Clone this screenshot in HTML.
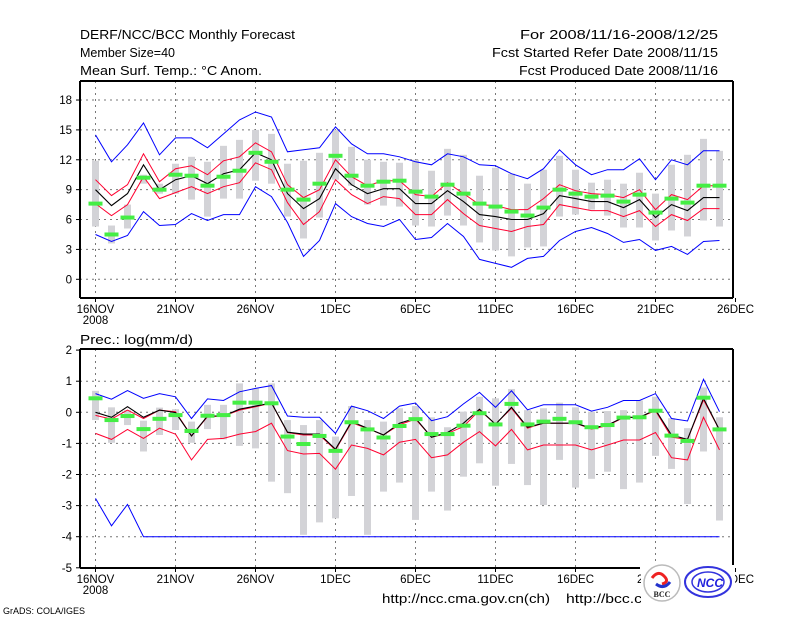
<!DOCTYPE html>
<html><head><meta charset="utf-8"><style>
body{margin:0;background:#fff;}
svg{display:block;font-family:"Liberation Sans",sans-serif;}
</style></head><body>
<svg id="c" width="800" height="618" viewBox="0 0 800 618" xmlns="http://www.w3.org/2000/svg">
<rect width="800" height="618" fill="#fff"/>
<g font-size="13" fill="#000">
<text x="80" y="39" textLength="215" lengthAdjust="spacingAndGlyphs">DERF/NCC/BCC Monthly Forecast</text>
<text x="80" y="57" textLength="95" lengthAdjust="spacingAndGlyphs">Member Size=40</text>
<text x="80" y="75" textLength="182" lengthAdjust="spacingAndGlyphs">Mean Surf. Temp.: °C Anom.</text>
<text x="520" y="39" textLength="198" lengthAdjust="spacingAndGlyphs">For 2008/11/16-2008/12/25</text>
<text x="492" y="57" textLength="226" lengthAdjust="spacingAndGlyphs">Fcst Started Refer Date 2008/11/15</text>
<text x="519" y="75" textLength="199" lengthAdjust="spacingAndGlyphs">Fcst Produced Date 2008/11/16</text>
<text x="80" y="344" textLength="113" lengthAdjust="spacingAndGlyphs">Prec.: log(mm/d)</text>
<text x="382" y="603" textLength="168" lengthAdjust="spacingAndGlyphs">http://ncc.cma.gov.cn(ch)</text>
<text x="566" y="603" textLength="76" lengthAdjust="spacingAndGlyphs">http://bcc.c</text>
<text x="3" y="614" font-size="9">GrADS: COLA/IGES</text>
</g>
<g id="p1"></g>
<g id="p2"></g>
<g>
<rect x="641" y="565" width="94" height="37" fill="#fff"/>
<circle cx="662" cy="583" r="18" fill="#fff" stroke="#bbb" stroke-width="1.5"/>
<path d="M652 578 q6-8 12-2 q6 6 -2 8" fill="none" stroke="#e22" stroke-width="3"/>
<path d="M656 584 q8 6 14-2" fill="none" stroke="#23c" stroke-width="3"/>
<text x="662" y="597" font-size="8" font-weight="bold" text-anchor="middle" fill="#222" font-family="Liberation Serif,serif">BCC</text>
<ellipse cx="708" cy="582" rx="23" ry="15" fill="#fff" stroke="#33d" stroke-width="2"/>
<ellipse cx="708" cy="582" rx="16" ry="10" fill="none" stroke="#33d" stroke-width="1.5"/>
<text x="710" y="587" font-size="12" font-weight="bold" font-style="italic" text-anchor="middle" fill="#22d">NCC</text>
</g>
</svg>
<script>
const days=["16NOV","21NOV","26NOV","1DEC","6DEC","11DEC","16DEC","21DEC","26DEC"];
const tMax=[14.5,11.8,13.5,15.7,12.5,14.2,14.2,13.2,14.6,16.0,16.8,16.3,12.8,13.0,13.2,15.3,13.6,12.6,12.6,12.3,11.8,11.5,12.6,12.3,11.5,11.4,10.6,10.1,11.1,13.0,11.5,10.5,11.0,11.0,12.1,10.0,12.0,11.5,12.9,12.9];
const tMin=[4.5,3.8,4.4,6.8,5.4,5.5,6.6,5.9,6.5,6.5,9.3,8.3,5.7,2.3,3.9,7.6,6.3,5.6,5.3,6.0,4.0,4.2,5.6,4.3,2.0,1.6,1.2,2.1,2.3,3.9,4.8,5.2,4.6,3.7,4.0,2.9,3.3,2.5,3.8,3.9];
const tUp=[10.0,8.4,9.5,12.6,9.8,11.1,11.4,10.5,11.9,12.3,13.7,12.8,9.5,8.2,9.0,12.0,10.3,9.4,9.9,9.9,8.5,8.3,9.7,8.6,7.5,7.4,7.0,7.0,8.1,9.5,8.9,8.6,8.5,8.2,9.0,7.0,8.5,8.0,9.4,9.4];
const tLo=[7.6,6.4,7.5,10.3,8.1,8.7,9.3,8.6,9.3,9.7,11.7,11.0,7.7,5.5,6.8,10.0,8.5,7.6,8.3,8.1,6.5,6.5,8.0,6.6,5.4,5.1,4.8,5.3,5.5,7.5,7.2,6.9,6.9,6.3,6.9,5.3,6.5,5.9,7.1,7.1];
const tMean=[9.0,7.4,8.6,11.5,9.0,10.0,10.4,9.6,10.6,11.0,12.7,12.0,8.6,7.1,8.1,11.1,9.5,8.6,9.1,9.1,7.6,7.6,8.9,7.8,6.5,6.3,6.0,6.0,6.6,8.4,8.1,7.8,7.8,7.2,8.0,6.2,7.5,6.9,8.2,8.2];
const tObs=[7.6,4.5,6.2,10.2,9.0,10.5,10.4,9.4,10.3,10.9,12.7,11.8,9.0,8.0,9.6,12.4,10.4,9.4,9.8,9.9,8.8,8.3,9.5,8.6,7.6,7.3,6.8,6.4,7.2,9.0,8.6,8.3,8.4,7.8,8.5,6.7,8.1,7.7,9.4,9.4];
const tBarHi=[11.9,5.4,7.5,10.5,9.6,11.6,12.3,11.8,13.4,14.0,15.0,14.6,11.6,11.9,12.7,15.0,13.3,12.0,11.8,11.7,12.0,10.9,13.1,12.5,10.4,11.2,10.6,9.6,11.0,12.4,11.0,9.7,10.0,9.6,10.7,8.6,11.5,12.5,14.1,12.9];
const tBarLo=[5.3,3.6,5.1,9.6,8.6,8.6,8.0,6.3,8.1,8.1,9.9,9.6,6.3,4.1,6.2,10.0,9.4,7.5,7.4,7.3,5.4,5.3,6.4,5.4,3.7,2.9,2.3,3.2,3.3,6.3,6.5,7.0,6.4,5.2,5.2,3.9,4.9,4.3,5.9,5.3];
const tTicks=[0,3,6,9,12,15,18];
const pMax=[0.6,0.42,0.7,0.45,0.6,0.5,-0.2,0.43,0.38,0.66,0.77,0.86,-0.12,-0.16,-0.16,-0.68,0.2,0.05,-0.2,0.2,0.3,-0.27,-0.14,0.27,0.64,0.16,0.69,0.08,0.24,0.24,0.24,0.04,0.16,0.38,0.38,0.6,-0.2,-0.28,1.06,0.02];
const pMin=[-2.77,-3.65,-2.96,-4,-4,-4,-4,-4,-4,-4,-4,-4,-4,-4,-4,-4,-4,-4,-4,-4,-4,-4,-4,-4,-4,-4,-4,-4,-4,-4,-4,-4,-4,-4,-4,-4,-4,-4,-4,-4];
const pUp=[-0.1,-0.22,0.07,-0.2,0.07,0.02,-0.76,-0.14,-0.12,0.07,0.18,0.3,-0.65,-0.73,-0.73,-1.21,-0.33,-0.52,-0.73,-0.4,-0.22,-0.8,-0.68,-0.46,0.07,-0.38,0.13,-0.51,-0.35,-0.35,-0.35,-0.54,-0.43,-0.17,-0.16,0.05,-0.8,-0.87,0.4,-0.57];
const pLo=[-0.68,-0.87,-0.55,-0.84,-0.51,-0.7,-1.53,-0.87,-0.84,-0.7,-0.62,-0.35,-1.23,-1.34,-1.32,-1.83,-1.05,-1.16,-1.37,-0.96,-0.87,-1.46,-1.37,-0.96,-0.62,-1.08,-0.55,-1.21,-1.05,-1.05,-1.05,-1.21,-1.05,-0.89,-0.89,-0.65,-1.46,-1.53,-0.16,-1.21];
const pMean=[0,-0.16,0.18,-0.16,0.07,-0.01,-0.76,-0.12,-0.12,0.1,0.2,0.3,-0.64,-0.7,-0.7,-1.19,-0.3,-0.51,-0.73,-0.35,-0.19,-0.8,-0.65,-0.35,0.1,-0.39,0.16,-0.48,-0.35,-0.35,-0.35,-0.51,-0.41,-0.16,-0.16,0.08,-0.73,-0.87,0.45,-0.57];
const pObs=[0.45,-0.25,-0.12,-0.54,-0.21,-0.09,-0.6,-0.11,-0.09,0.31,0.31,0.29,-0.78,-1.02,-0.76,-1.24,-0.32,-0.55,-0.81,-0.44,-0.22,-0.7,-0.7,-0.43,-0.03,-0.39,0.27,-0.39,-0.3,-0.21,-0.32,-0.48,-0.41,-0.17,-0.16,0.05,-0.75,-0.92,0.47,-0.55];
const pBarHi=[0.69,0.16,0.07,-0.27,0.15,0.1,-0.3,0.24,0.24,0.93,0.77,0.93,-0.25,-0.41,-0.25,-0.78,0.2,-0.25,-0.3,0.13,0.2,-0.16,-0.48,0.02,0.5,0.45,0.75,0.07,0.13,0.31,0.16,0.02,0.04,0.07,0.38,0.5,-0.19,-0.51,0.8,-0.16];
const pBarLo=[-0.25,-0.98,-0.41,-1.26,-0.73,-0.57,-0.98,-0.54,-0.87,-1.08,-1.16,-2.23,-2.6,-3.94,-3.54,-3.41,-2.69,-3.94,-2.55,-2.26,-3.46,-2.55,-3.16,-2.07,-1.64,-2.36,-1.66,-2.34,-2.98,-1.53,-2.42,-2.14,-1.91,-2.47,-2.26,-1.4,-1.82,-2.95,-1.26,-3.48];
const pTicks=[-5,-4,-3,-2,-1,0,1,2];

const NS="http://www.w3.org/2000/svg";
function mk(parent,tag,attrs){const e=document.createElementNS(NS,tag);for(const k in attrs)e.setAttribute(k,attrs[k]);parent.appendChild(e);return e;}
const xDay=d=>95.5+16*d;
function panel(g,opt){
  const y=v=>opt.y0-(v-opt.v0)*opt.k;
  const L=80,R=733;
  const grid=mk(g,'g',{stroke:'#777','stroke-width':1,'stroke-dasharray':'2,4'});
  
  
  opt.ticks.forEach(t=>{const yy=y(t);if(yy>opt.top+2&&yy<opt.bot-2){const l=mk(grid,'line',{x1:L,x2:R,y1:yy,y2:yy});}});
  days.forEach((s,i)=>{const xx=xDay(i*5);if(xx<R-2){const l=mk(grid,'line',{x1:xx,x2:xx,y1:opt.top,y2:opt.bot});}});
  const bars=mk(g,'g',{fill:'#d3d3d7'});
  
  
  opt.hi.forEach((h,d)=>{const r=mk(bars,'rect',{x:xDay(d)-3.5,y:y(h),width:7,height:Math.max(1,y(opt.lo[d])-y(h))});});
  const line=(arr,col,w,name)=>{const p=mk(g,'polyline',{fill:'none',stroke:col,'stroke-width':w,points:arr.map((v,d)=>xDay(d)+','+y(v).toFixed(1)).join(' ')});};
  line(opt.mx,'#0000ff',1,'max-line');
  line(opt.mn,'#0000ff',1,'min-line');
  line(opt.lw,'#ff0030',1,'lower-line');
  line(opt.up,'#ff0030',1,'upper-line');
  line(opt.mean,'#000',1.1,'mean-line');
  const gr=mk(g,'g',{fill:'#44ee44'});
  
  
  opt.obs.forEach((v,d)=>{const r=mk(gr,'rect',{x:xDay(d)-7,y:y(v)-2,width:14,height:4});});
  const fr=mk(g,'g',{stroke:'#000','stroke-width':2,fill:'none'});
  
  
  mk(fr,'line',{x1:L,y1:opt.top,x2:R,y2:opt.top});
  mk(fr,'line',{x1:L,y1:opt.top,x2:L,y2:opt.bot});
  mk(fr,'line',{x1:R,y1:opt.top,x2:R,y2:opt.bot});
  mk(fr,'line',{x1:L,y1:opt.bot,x2:opt.botEnd,y2:opt.bot});
  const tx=mk(g,'g',{'font-size':11.5,fill:'#000'});
  
  
  opt.ticks.forEach(t=>{mk(tx,'line',{x1:L-4,x2:L,y1:y(t),y2:y(t),stroke:'#000'});const e=mk(tx,'text',{x:L-8,y:y(t)+4,'text-anchor':'end'});e.textContent=t;});
  days.forEach((s,i)=>{const xx=xDay(i*5);mk(tx,'line',{x1:xx,x2:xx,y1:opt.bot,y2:opt.bot+4,stroke:'#000'});const e=mk(tx,'text',{x:xx,y:opt.bot+15,'text-anchor':'middle'});e.textContent=s;});
  const e=mk(tx,'text',{x:xDay(0),y:opt.bot+26,'text-anchor':'middle'});e.textContent='2008';
  
  
}
panel(document.getElementById('p1'),{top:81,bot:298,botEnd:733,y0:279.3,v0:0,k:9.96,ticks:tTicks,hi:tBarHi,lo:tBarLo,mx:tMax,mn:tMin,up:tUp,lw:tLo,mean:tMean,obs:tObs});
panel(document.getElementById('p2'),{top:349,bot:568,botEnd:640,y0:412.3,v0:0,k:31.1,ticks:pTicks,hi:pBarHi,lo:pBarLo,mx:pMax,mn:pMin,up:pUp,lw:pLo,mean:pMean,obs:pObs});
</script>
</body></html>
